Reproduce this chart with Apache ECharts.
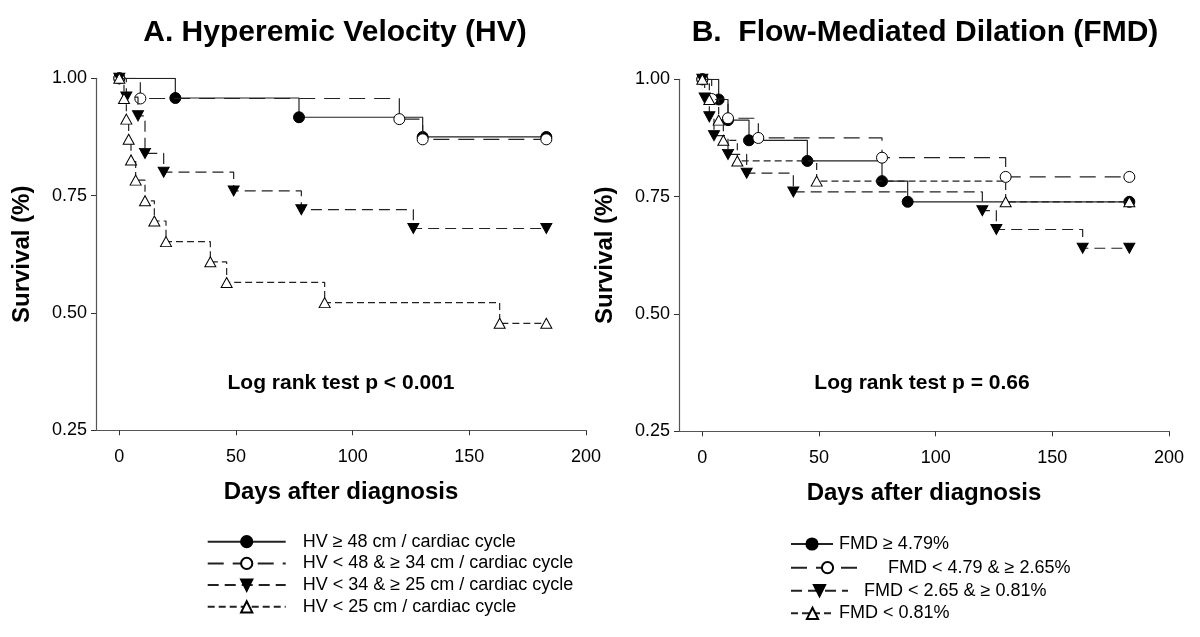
<!DOCTYPE html>
<html>
<head>
<meta charset="utf-8">
<script src="https://cdn.jsdelivr.net/npm/echarts@6/dist/echarts.min.js"></script>
<style>
html,body{margin:0;padding:0;background:#fff;}
#chart{width:1200px;height:637px;}
</style>
</head>
<body>
<div id="chart"></div>
<script>
// ---- Data (days after diagnosis, survival fraction) ----
const xTicks = [0, 50, 100, 150, 200];
const yTicks = [0.25, 0.50, 0.75, 1.00];

const hvNames = ['HV \u2265 48 cm / cardiac cycle', 'HV < 48 & \u2265 34 cm / cardiac cycle', 'HV < 34 & \u2265 25 cm / cardiac cycle', 'HV < 25 cm / cardiac cycle'];
const hv1Days = [0, 24, 77, 130, 183];
const hv1Surv = [1, 0.958, 0.917, 0.875, 0.875];
const hv2Days = [0, 9, 120, 130, 183];
const hv2Surv = [1, 0.957, 0.913, 0.870, 0.870];
const hv3Days = [0, 3, 8, 11, 19, 49, 78, 126, 183];
const hv3Surv = [1, 0.96, 0.92, 0.84, 0.80, 0.76, 0.72, 0.68, 0.68];
const hv4Days = [0, 2, 3, 4, 5, 7, 11, 15, 20, 39, 46, 88, 163, 183];
const hv4Surv = [1, 0.957, 0.913, 0.870, 0.826, 0.783, 0.739, 0.696, 0.652, 0.609, 0.565, 0.522, 0.478, 0.478];

const fmdNames = ['FMD \u2265 4.79%', 'FMD < 4.79 & \u2265 2.65%', 'FMD < 2.65 & \u2265 0.81%', 'FMD < 0.81%'];
const fmd1Days = [0, 7, 11, 20, 45, 77, 88, 183];
const fmd1Surv = [1, 0.957, 0.913, 0.870, 0.826, 0.783, 0.739, 0.739];
const fmd2Days = [0, 4, 11, 24, 77, 130, 183];
const fmd2Surv = [1, 0.958, 0.917, 0.875, 0.833, 0.792, 0.792];
const fmd3Days = [0, 1, 3, 5, 11, 19, 39, 120, 126, 163, 183];
const fmd3Surv = [1, 0.96, 0.92, 0.88, 0.84, 0.80, 0.76, 0.72, 0.68, 0.64, 0.64];
const fmd4Days = [0, 3, 7, 9, 15, 49, 130, 183];
const fmd4Surv = [1, 0.957, 0.913, 0.870, 0.826, 0.783, 0.739, 0.739];

const titles = ['A. Hyperemic Velocity (HV)', 'B.  Flow-Mediated Dilation (FMD)'];
const notes = ['Log rank test p < 0.001', 'Log rank test p = 0.66'];
const xName = 'Days after diagnosis';
const yName = 'Survival (%)';

// ---- Build chart ----
const FONT = '"Liberation Sans", Arial, sans-serif';
const zip = (a, b) => a.map((d, i) => [d, b[i]]);
const DOWN = 'path://M0,0 L10,0 L5,9 Z';
const styles = [
  {symbol: 'circle', fill: '#000', dash: 'solid', size: 11},
  {symbol: 'circle', fill: '#fff', dash: [16, 9], size: 11},
  {symbol: DOWN, fill: '#000', dash: [11, 6], size: [11, 10]},
  {symbol: 'triangle', fill: '#fff', dash: [7, 4], size: [11, 10]}
];

function mkSeries(name, days, surv, k, gi) {
  const s = styles[k];
  return {
    name: name, type: 'line', step: 'end',
    xAxisIndex: gi, yAxisIndex: gi,
    data: zip(days, surv),
    symbol: s.symbol, symbolSize: s.size, showSymbol: true, showAllSymbol: true,
    lineStyle: {color: '#222', width: 1.2, type: s.dash},
    itemStyle: {color: s.fill, borderColor: '#000', borderWidth: 1},
    emphasis: {disabled: true},
    z: 2 + k
  };
}

const grids = [
  {left: 96, top: 78.3, width: 490, height: 352},
  {left: 679, top: 79.3, width: 490, height: 352}
];

function mkX(gi) {
  return {
    gridIndex: gi, type: 'value', min: -10, max: 200,
    name: xName, nameLocation: 'middle', nameGap: 50,
    nameTextStyle: {fontFamily: FONT, fontSize: 24, fontWeight: 'bold', color: '#000'},
    axisLine: {show: true, onZero: false, lineStyle: {color: '#555', width: 1.2}},
    axisTick: {show: true, length: 5, inside: false, customValues: xTicks, lineStyle: {color: '#333'}},
    axisLabel: {customValues: xTicks, fontFamily: FONT, fontSize: 18, color: '#000', margin: 18},
    splitLine: {show: false}
  };
}
function mkY(gi) {
  return {
    gridIndex: gi, type: 'value', min: 0.25, max: 1.0, interval: 0.25,
    name: yName, nameLocation: 'middle', nameGap: 62, nameRotate: 90,
    nameTextStyle: {fontFamily: FONT, fontSize: 24, fontWeight: 'bold', color: '#000'},
    axisLine: {show: true, onZero: false, lineStyle: {color: '#555', width: 1.2}},
    axisTick: {show: true, length: 5, lineStyle: {color: '#333'}},
    axisLabel: {fontFamily: FONT, fontSize: 18, color: '#000', margin: 9,
      formatter: v => v.toFixed(2)},
    splitLine: {show: false}
  };
}

const series = [
  mkSeries(hvNames[0], hv1Days, hv1Surv, 0, 0),
  mkSeries(hvNames[1], hv2Days, hv2Surv, 1, 0),
  mkSeries(hvNames[2], hv3Days, hv3Surv, 2, 0),
  mkSeries(hvNames[3], hv4Days, hv4Surv, 3, 0),
  mkSeries(fmdNames[0], fmd1Days, fmd1Surv, 0, 1),
  mkSeries(fmdNames[1], fmd2Days, fmd2Surv, 1, 1),
  mkSeries(fmdNames[2], fmd3Days, fmd3Surv, 2, 1),
  mkSeries(fmdNames[3], fmd4Days, fmd4Surv, 3, 1)
];

const legText = {fontFamily: FONT, fontSize: 18, color: '#000', lineHeight: 18};
const legends = [
  {data: hvNames, orient: 'vertical', left: 201.7, top: 527.7, itemWidth: 78, itemHeight: 14,
   itemGap: 3.7, selectedMode: false, textStyle: Object.assign({padding: [0, 0, 0, 12]}, legText)}
];
const rightRows = [
  {top: 530, w: 42, pad: 1},
  {top: 553.7, w: 73, pad: 19},
  {top: 576.7, w: 57, pad: 11},
  {top: 599.3, w: 43, pad: 0}
];
rightRows.forEach((r, i) => {
  legends.push({data: [fmdNames[i]], orient: 'vertical', left: 785, top: r.top, itemWidth: r.w,
    itemHeight: 14, selectedMode: false, textStyle: Object.assign({padding: [0, 0, 0, r.pad]}, legText)});
});

const textEl = (t, x, y, size) => ({
  type: 'text', x: x, y: y, silent: true,
  style: {text: t, font: 'bold ' + size + 'px ' + FONT, fill: '#000', textAlign: 'center', textVerticalAlign: 'middle'}
});

const option = {
  animation: false,
  backgroundColor: '#fff',
  grid: grids,
  xAxis: [mkX(0), mkX(1)],
  yAxis: [mkY(0), mkY(1)],
  legend: legends,
  series: series,
  graphic: [
    textEl(titles[0], 335, 33, 30),
    textEl(titles[1], 925, 33, 30),
    textEl(notes[0], 341, 383, 21),
    textEl(notes[1], 922, 383, 21)
  ]
};

const chart = echarts.init(document.getElementById('chart'), null, {renderer: 'canvas'});
chart.setOption(option);
</script>
</body>
</html>
